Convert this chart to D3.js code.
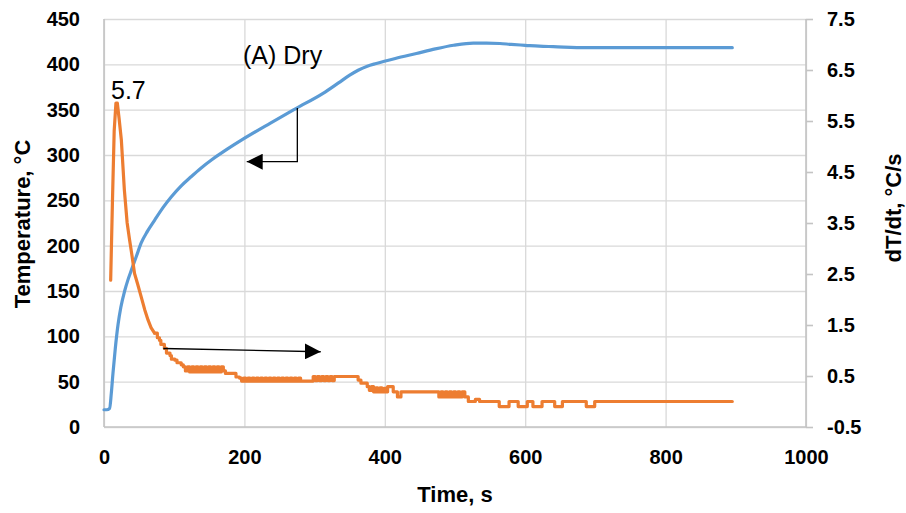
<!DOCTYPE html>
<html>
<head>
<meta charset="utf-8">
<script src="https://cdn.jsdelivr.net/npm/d3@7.9.0/dist/d3.min.js"></script>
<style>
	html, body { margin: 0; padding: 0; background: #fff; }
	svg { display: block; font-family: 'Liberation Sans', Arial, sans-serif; }
	.grid line { stroke: #d9d9d9; stroke-width: 1.3; }
	.grid path { display: none; }
	.labels text { font-weight: bold; font-size: 20px; fill: #000; }
	.title { font-weight: bold; font-size: 22px; fill: #000; }
	.note { font-size: 25px; fill: #000; }
</style>
</head>
<body>
<svg id="chart" width="906" height="513"></svg>
<script>
// tick values
const timeTicks = [0, 200, 400, 600, 800, 1000];
const tempTicks = [0, 50, 100, 150, 200, 250, 300, 350, 400, 450];
const rateTicks = [-0.5, 0.5, 1.5, 2.5, 3.5, 4.5, 5.5, 6.5, 7.5];

// temperature (left axis)
const tempTime = [0, 4, 8, 10.4, 12.8, 16, 20, 24, 29.4, 34, 39, 46, 53, 62, 72, 84, 96, 110, 124, 138, 153, 166, 176.6, 198, 236.5, 274, 312, 334, 350, 362, 375, 388, 415, 445, 472, 498, 526, 545, 564, 580, 600, 620, 640, 687, 800, 895];
const tempValue = [19, 19, 20.6, 37, 59.5, 86, 113, 132, 150, 162, 173, 188, 203, 216, 228, 242, 254, 266, 276, 285.5, 294.5, 301.5, 307, 317.5, 335, 351.5, 368, 379.5, 388, 393.5, 398, 401, 406.5, 412, 417, 421, 423.5, 423.5, 423, 422, 421, 420, 419.5, 418.4, 418.4, 418.4];

// dT/dt (right axis)
const rateTime = [9.5, 12, 14.5, 17, 19, 21.5, 24.7, 29, 33, 36.4, 40, 43.5, 48, 53, 58, 62.7, 67, 72, 76, 79, 81, 86, 89, 94, 96, 101, 104, 110, 113,
	116, 119, 122, 125, 128, 131, 134, 137, 140, 143, 146, 149, 152, 155, 158, 161, 164, 167, 170,
	173, 185, 188, 193,
	196, 199, 202, 205, 208, 211, 214, 217, 220, 223, 226, 229, 232, 235, 238, 241, 244, 247, 250, 253, 256, 259, 262, 265, 268, 271, 274, 277, 280,
	295, 298, 301, 304, 307, 310, 313, 316, 319, 322, 325, 328,
	331, 359, 362, 366, 372, 375,
	378, 381, 384, 387, 390, 393, 396, 399, 402, 404, 410, 412, 416, 418, 421, 423,
	474, 477, 480, 483, 486, 489, 492, 495, 498, 501, 504, 507, 510, 514, 519, 527, 529, 535,
	561, 563, 575, 577, 588, 590, 601, 603, 609, 611, 622, 624, 640, 642, 651, 653, 685, 687, 697, 699, 895];
const rateValue = [2.38, 3.9, 5.3, 5.85, 5.85, 5.55, 5.13, 4.15, 3.5, 3.17, 2.85, 2.51, 2.3, 2.05, 1.8, 1.6, 1.45, 1.34, 1.25, 1.2, 1.12, 1.04, 0.95, 0.9, 0.83, 0.81, 0.76, 0.72, 0.68,
	0.6, 0.68, 0.58, 0.68, 0.58, 0.68, 0.58, 0.68, 0.58, 0.68, 0.58, 0.68, 0.58, 0.68, 0.58, 0.68, 0.58, 0.68, 0.6,
	0.55, 0.55, 0.48, 0.46,
	0.4, 0.46, 0.4, 0.46, 0.4, 0.46, 0.4, 0.46, 0.4, 0.46, 0.4, 0.46, 0.4, 0.46, 0.4, 0.46, 0.4, 0.46, 0.4, 0.46, 0.4, 0.46, 0.4, 0.46, 0.4, 0.46, 0.4, 0.46, 0.4,
	0.4, 0.49, 0.41, 0.49, 0.41, 0.49, 0.41, 0.49, 0.41, 0.49, 0.41, 0.49,
	0.49, 0.49, 0.42, 0.36, 0.36, 0.29,
	0.22, 0.29, 0.19, 0.27, 0.19, 0.27, 0.19, 0.26, 0.19, 0.29, 0.29, 0.19, 0.19, 0.09, 0.09, 0.19,
	0.19, 0.09, 0.19, 0.09, 0.19, 0.09, 0.19, 0.09, 0.19, 0.09, 0.19, 0.09, 0.19, 0.09, 0.0, 0.0, 0.04, 0.0,
	0.0, -0.1, -0.1, 0.0, 0.0, -0.1, -0.1, 0.0, 0.0, -0.1, -0.1, 0.0, 0.0, -0.1, -0.1, 0.0, 0.0, -0.1, -0.1, 0.0, 0.0];

// the logged rate is quantised after the peak, so it is drawn as steps from here on
const stepFrom = 72;

const peakLabel = '5.7';
const panelLabel = '(A) Dry';

const svg = d3.select('#chart');
const plotLeft = 104, plotRight = 806, plotTop = 19, plotBottom = 427;

const x = d3.scaleLinear().domain([0, 1000]).range([plotLeft, plotRight]);
const yTemp = d3.scaleLinear().domain([0, 450]).range([plotBottom, plotTop]);
const yRate = d3.scaleLinear().domain([-0.5, 7.5]).range([plotBottom, plotTop]);

// gridlines
svg.append('g').attr('class', 'grid')
	.attr('transform', `translate(${plotLeft},0)`)
	.call(d3.axisLeft(yTemp).tickValues(tempTicks).tickSize(-(plotRight - plotLeft)).tickFormat(''));
svg.append('g').attr('class', 'grid')
	.attr('transform', `translate(0,${plotBottom})`)
	.call(d3.axisBottom(x).tickValues(timeTicks).tickSize(-(plotBottom - plotTop)).tickFormat(''));

// axis lines
const axisColor = '#c4c4c4';
[[plotLeft, plotTop, plotLeft, plotBottom], [plotLeft, plotBottom, plotRight, plotBottom], [plotRight, plotTop, plotRight, plotBottom]].forEach((l) => {
	svg.append('line')
		.attr('x1', l[0]).attr('y1', l[1]).attr('x2', l[2]).attr('y2', l[3])
		.attr('stroke', axisColor).attr('stroke-width', 1.6);
});

// tick labels
const leftAxis = svg.append('g').attr('class', 'labels')
	.attr('transform', `translate(${plotLeft},0)`)
	.call(d3.axisLeft(yTemp).tickValues(tempTicks).tickSize(0).tickPadding(24));
const bottomAxis = svg.append('g').attr('class', 'labels')
	.attr('transform', `translate(0,${plotBottom})`)
	.call(d3.axisBottom(x).tickValues(timeTicks).tickSize(0).tickPadding(23).tickFormat(d3.format('d')));
const rightAxis = svg.append('g').attr('class', 'labels')
	.attr('transform', `translate(${plotRight},0)`)
	.call(d3.axisRight(yRate).tickValues(rateTicks).tickSize(7).tickPadding(14)
		.tickFormat((d) => d.toFixed(1)));
[leftAxis, bottomAxis, rightAxis].forEach((g) => g.select('.domain').remove());
rightAxis.selectAll('.tick line').attr('stroke', axisColor).attr('stroke-width', 1.6);

// series
const tempLine = d3.line()
	.x((d, i) => x(tempTime[i]))
	.y((d) => yTemp(d))
	.curve(d3.curveMonotoneX);
svg.append('path')
	.attr('d', tempLine(tempValue))
	.attr('fill', 'none').attr('stroke', '#5b9bd5').attr('stroke-width', 3.2)
	.attr('stroke-linejoin', 'round').attr('stroke-linecap', 'round');

const ratePoints = rateTime.map((t, i) => [t, rateValue[i]]);
const rateHead = ratePoints.filter((d) => d[0] <= stepFrom);
const rateTail = ratePoints.filter((d) => d[0] >= stepFrom);
const rateLine = d3.line().x((d) => x(d[0])).y((d) => yRate(d[1]));
const rateStep = d3.line().x((d) => x(d[0])).y((d) => yRate(d[1])).curve(d3.curveStepAfter);
[rateLine(rateHead), rateStep(rateTail)].forEach((dPath) => {
	svg.append('path')
		.attr('d', dPath)
		.attr('fill', 'none').attr('stroke', '#ed7d31').attr('stroke-width', 3.2)
		.attr('stroke-linejoin', 'round').attr('stroke-linecap', 'round');
});

// arrows
const defs = svg.append('defs');
defs.append('marker')
	.attr('id', 'head')
	.attr('markerUnits', 'userSpaceOnUse')
	.attr('viewBox', '0 0 16 16')
	.attr('refX', 16).attr('refY', 8)
	.attr('markerWidth', 16).attr('markerHeight', 16)
	.attr('orient', 'auto')
	.append('path').attr('d', 'M0,0 L16,8 L0,16 Z').attr('fill', '#000');

// arrow to the temperature axis
svg.append('polyline')
	.attr('points', [[275.4, 351.8], [275.4, 292.6], [203.3, 292.6]]
		.map((p) => `${x(p[0])},${yTemp(p[1])}`).join(' '))
	.attr('fill', 'none').attr('stroke', '#000').attr('stroke-width', 1.3)
	.attr('marker-end', 'url(#head)');

// arrow to the dT/dt axis
svg.append('line')
	.attr('x1', x(84.5)).attr('y1', yTemp(86.6))
	.attr('x2', x(308.7)).attr('y2', yTemp(83))
	.attr('stroke', '#000').attr('stroke-width', 1.3)
	.attr('marker-end', 'url(#head)');

// annotations
svg.append('text').attr('class', 'note')
	.attr('x', 111).attr('y', 98.5).text(peakLabel);
svg.append('text').attr('class', 'note')
	.attr('x', 243).attr('y', 63.5).text(panelLabel);

// axis titles
svg.append('text').attr('class', 'title')
	.attr('text-anchor', 'middle').attr('dy', '0.35em')
	.attr('x', 455).attr('y', 494).text('Time, s');
svg.append('text').attr('class', 'title')
	.attr('text-anchor', 'middle').attr('dy', '0.35em')
	.attr('transform', 'translate(22,224) rotate(-90)').text('Temperature, °C');
svg.append('text').attr('class', 'title')
	.attr('text-anchor', 'middle').attr('dy', '0.35em')
	.attr('transform', 'translate(893,208) rotate(-90)').text('dT/dt, °C/s');
</script>
</body>
</html>
